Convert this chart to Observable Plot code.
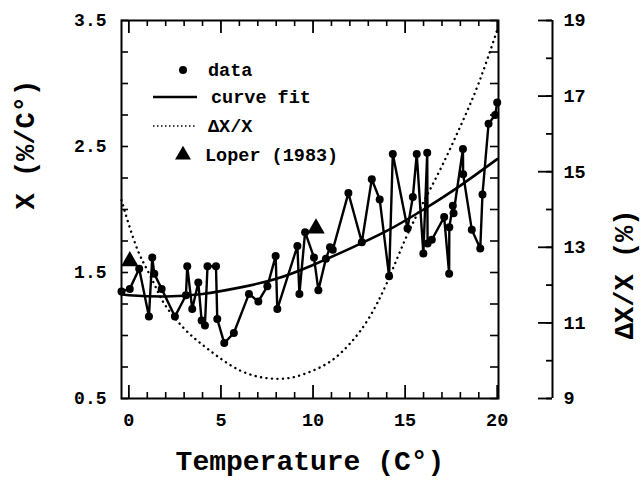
<!DOCTYPE html>
<html>
<head>
<meta charset="utf-8">
<script src="https://cdn.jsdelivr.net/npm/d3@7"></script>
<script src="https://cdn.jsdelivr.net/npm/@observablehq/plot@0.6"></script>
<style>
  html, body { margin: 0; padding: 0; background: #fff; }
  #chart { position: relative; width: 642px; height: 493px; }
  #legend { position: absolute; left: 0; top: 0; pointer-events: none; }
</style>
</head>
<body>
<div id="chart"></div>
<script>
// ---- data ----
const dataT = [-0.4, 0.05, 0.56, 1.09, 1.27, 1.38, 1.78, 2.5, 3.1, 3.17, 3.44, 3.77, 3.95, 4.13, 4.27, 4.73, 4.8, 5.18, 5.7,
  6.52, 7.03, 7.52, 7.97, 8.06, 9.15, 9.26, 9.57, 10.05, 10.29, 10.7, 10.92, 11.07, 11.92, 12.65, 13.19, 13.62,
  14.13, 14.33, 15.13, 15.42, 15.63, 15.99, 16.2, 16.22, 16.45, 17.12, 17.39, 17.4, 17.59, 17.63, 18.14, 18.15,
  18.62, 19.08, 19.2, 19.53, 19.89, 20.0];
const dataX = [1.35, 1.37, 1.53, 1.15, 1.62, 1.49, 1.37, 1.15, 1.32, 1.55, 1.21, 1.42, 1.12, 1.08, 1.55, 1.55, 1.13, 0.94, 1.02,
  1.33, 1.27, 1.39, 1.63, 1.21, 1.71, 1.33, 1.82, 1.62, 1.36, 1.61, 1.70, 1.68, 2.13, 1.74, 2.24, 2.08,
  1.47, 2.44, 1.85, 2.10, 2.44, 1.65, 2.45, 1.73, 1.76, 1.94, 1.49, 1.86, 2.03, 1.97, 2.48, 2.28,
  1.84, 1.69, 2.12, 2.68, 2.75, 2.85];
const loperT = [0.05, 10.16];
const loperX = [1.59, 1.85];
const fitT = [-0.4, 0, 2, 4, 6, 8, 10, 12, 14, 16, 18, 20];
const fitX = [1.33, 1.32, 1.31, 1.33, 1.38, 1.45, 1.56, 1.69, 1.83, 2.00, 2.19, 2.40];
const dxT = [-0.4, 0, 0.5, 1, 1.5, 2, 3, 4, 5, 6, 7, 8, 9, 10, 11, 12, 13, 14, 15, 16, 17, 18, 19, 20];
const dxV = [14.25, 13.6, 12.9, 12.4, 11.9, 11.45, 10.85, 10.42, 10.05, 9.75, 9.58, 9.52, 9.57, 9.74, 10.0, 10.45, 11.1, 12.05, 13.2, 14.2, 15.15, 16.2, 17.35, 18.75];
const xTickLabels = [0, 5, 10, 15, 20];
const yTickLabels = [0.5, 1.5, 2.5, 3.5];
const rightTicks = [9, 10, 11, 12, 13, 14, 15, 16, 17, 18, 19];
const rightTickLabels = [9, 11, 13, 15, 17, 19];

// ---- tables ----
const data = dataT.map((t, i) => ({t, x: dataX[i]}));
const loper = loperT.map((t, i) => ({t, x: loperX[i]}));
const fit = fitT.map((t, i) => ({t, x: fitX[i]}));
const dx = dxT.map((t, i) => ({t, v: dxV[i]}));

// secondary (right) axis scale mapped onto the left y domain
const toLeft = d3.scaleLinear([9, 19], [0.5, 3.5]);

const W = 642, H = 493;
const mL = 121, mR = 144, mT = 20, mB = 95;
const fw = W - mL - mR, fh = H - mT - mB;
const xDomain = [-0.4, 20.07];
const yDomain = [0.5, 3.5];
const font = "Liberation Mono, DejaVu Sans Mono, monospace";
const rightOff = 54;

const minorX = d3.range(0, 21).filter(d => d % 5 !== 0);
const majorX = [0, 5, 10, 15, 20];
const frameY = d3.range(0.5, 3.51, 0.25);

const chart = Plot.plot({
  width: W, height: H,
  marginLeft: mL, marginRight: mR, marginTop: mT, marginBottom: mB,
  style: {fontFamily: font, background: "white", color: "black"},
  x: {domain: xDomain, axis: null},
  y: {domain: yDomain, axis: null},
  marks: [
    // inward ticks on the frame
    Plot.ruleX(minorX, {insetTop: fh - 6, strokeWidth: 1.6}),
    Plot.ruleX(majorX, {insetTop: fh - 13, strokeWidth: 1.8}),
    Plot.ruleX(minorX, {insetBottom: fh - 6, strokeWidth: 1.6}),
    Plot.ruleX(majorX, {insetBottom: fh - 13, strokeWidth: 1.8}),
    Plot.ruleY(frameY, {insetRight: fw - 7, strokeWidth: 1.6}),
    Plot.ruleY(frameY, {insetLeft: fw - 8, strokeWidth: 1.6}),
    Plot.frame({strokeWidth: 2}),
    // separate right axis
    Plot.ruleX([xDomain[1]], {dx: rightOff, strokeWidth: 2}),
    Plot.ruleY(rightTicks, {y: d => toLeft(d), dx: rightOff, insetLeft: fw - 6, strokeWidth: 1.8}),
    Plot.ruleY(rightTickLabels, {y: d => toLeft(d), dx: rightOff, insetLeft: fw - 14, strokeWidth: 1.8}),
    Plot.text(rightTickLabels, {y: d => toLeft(d), frameAnchor: "right", dx: rightOff + 11, textAnchor: "start",
      fontSize: 18.5, fontWeight: "bold", fill: "black"}),
    // left & bottom labels
    Plot.text(yTickLabels, {y: d => d, frameAnchor: "left", dx: -15, textAnchor: "end",
      text: d => d.toFixed(1), fontSize: 18, fontWeight: "bold", fill: "black"}),
    Plot.text(xTickLabels, {x: d => d, frameAnchor: "bottom", dy: 22, lineAnchor: "middle",
      fontSize: 18.5, fontWeight: "bold", fill: "black"}),
    // titles
    Plot.text(["Temperature (C°)"], {frameAnchor: "bottom", dy: 63, lineAnchor: "middle",
      fontSize: 28, fontWeight: "bold", fill: "black"}),
    Plot.text(["X (%/C°)"], {frameAnchor: "left", dx: -96, rotate: -90, lineAnchor: "middle",
      fontSize: 27, fontWeight: "bold", fill: "black"}),
    Plot.text(["ΔX/X (%)"], {frameAnchor: "right", dx: 126, rotate: -90, lineAnchor: "middle",
      fontSize: 27, fontWeight: "bold", fill: "black"}),
    // series
    Plot.line(dx, {x: "t", y: d => toLeft(d.v), curve: "natural", stroke: "black", strokeWidth: 2.4,
      strokeDasharray: "0.1,5.4", strokeLinecap: "round"}),
    Plot.line(fit, {x: "t", y: "x", curve: "natural", stroke: "black", strokeWidth: 2.6}),
    Plot.line(data, {x: "t", y: "x", stroke: "black", strokeWidth: 2.4}),
    Plot.dot(data, {x: "t", y: "x", r: 4, fill: "black"}),
    Plot.dot(loper, {x: "t", y: "x", r: 6.5, symbol: "triangle", fill: "black"})
  ]
});

const holder = document.getElementById("chart");
holder.appendChild(chart);

// legend overlay
const lg = d3.select(holder).append("svg").attr("id", "legend")
  .attr("width", W).attr("height", H)
  .style("font-family", font).style("font-weight", "bold").style("font-size", "18.5px");
const rows = [
  {label: "data", y: 70, kind: "dot", tx: 208},
  {label: "curve fit", y: 97, kind: "line", tx: 211},
  {label: "ΔX/X", y: 126, kind: "dotted", tx: 208},
  {label: "Loper (1983)", y: 155, kind: "tri", tx: 205}
];
rows.forEach(r => {
  if (r.kind === "dot") lg.append("circle").attr("cx", 183).attr("cy", r.y).attr("r", 4).attr("fill", "black");
  if (r.kind === "line") lg.append("line").attr("x1", 153).attr("x2", 197).attr("y1", r.y).attr("y2", r.y)
    .attr("stroke", "black").attr("stroke-width", 2.4);
  if (r.kind === "dotted") lg.append("line").attr("x1", 153).attr("x2", 196).attr("y1", r.y).attr("y2", r.y)
    .attr("stroke", "black").attr("stroke-width", 1.6).attr("stroke-dasharray", "1.5,2.5");
  if (r.kind === "tri") lg.append("path").attr("d", d3.symbol(d3.symbolTriangle, 110)()).attr("transform", `translate(183,${r.y})`).attr("fill", "black");
  lg.append("text").attr("x", r.tx).attr("y", r.y).attr("dy", "0.35em").text(r.label);
});
</script>
</body>
</html>
